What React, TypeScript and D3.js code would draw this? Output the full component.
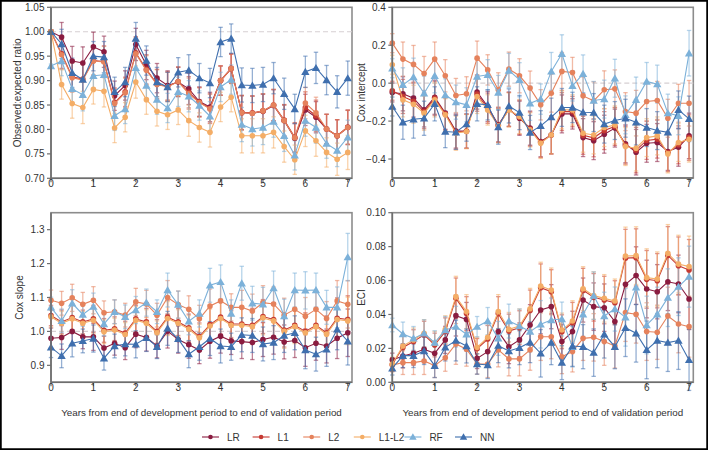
import React from 'react';
import * as d3 from 'd3';

// years from end of development period
const years = [0, 0.25, 0.5, 0.75, 1, 1.25, 1.5, 1.75, 2, 2.25, 2.5, 2.75, 3, 3.25, 3.5, 3.75, 4, 4.25, 4.5, 4.75, 5, 5.25, 5.5, 5.75, 6, 6.25, 6.5, 6.75, 7];

const models = ['LR', 'L1', 'L2', 'L1-L2', 'RF', 'NN'];
const colors = ['#8a1c40', '#c63a32', '#e5825c', '#f4ad66', '#7cb1d9', '#3f6fae'];
const shapes = ['circle', 'circle', 'circle', 'circle', 'triangle', 'triangle'];

// observed:expected ratio
const oeLR = [1.0, 0.989, 0.94, 0.936, 0.969, 0.959, 0.869, 0.89, 0.974, 0.932, 0.905, 0.89, 0.897, 0.883, 0.857, 0.846, 0.9, 0.925, 0.834, 0.833, 0.837, 0.849, 0.818, 0.782, 0.84, 0.825, 0.801, 0.787, 0.804];
const oeL1 = [1.0, 0.955, 0.908, 0.903, 0.941, 0.939, 0.855, 0.877, 0.957, 0.923, 0.893, 0.888, 0.898, 0.876, 0.856, 0.843, 0.9, 0.924, 0.835, 0.834, 0.838, 0.85, 0.819, 0.784, 0.845, 0.828, 0.801, 0.787, 0.805];
const oeL2 = [1.0, 0.953, 0.906, 0.901, 0.94, 0.938, 0.853, 0.875, 0.955, 0.921, 0.892, 0.887, 0.898, 0.873, 0.855, 0.842, 0.9, 0.925, 0.834, 0.833, 0.838, 0.85, 0.818, 0.783, 0.854, 0.834, 0.801, 0.787, 0.804];
const oeL1L2 = [1.0, 0.892, 0.853, 0.845, 0.882, 0.878, 0.803, 0.825, 0.897, 0.861, 0.837, 0.83, 0.84, 0.818, 0.804, 0.794, 0.846, 0.866, 0.787, 0.787, 0.787, 0.794, 0.765, 0.738, 0.797, 0.777, 0.753, 0.739, 0.753];
const oeRF = [0.93, 0.94, 0.883, 0.871, 0.91, 0.912, 0.828, 0.842, 0.926, 0.89, 0.861, 0.844, 0.877, 0.868, 0.849, 0.827, 0.887, 0.902, 0.81, 0.801, 0.804, 0.816, 0.787, 0.747, 0.818, 0.804, 0.771, 0.757, 0.784];
const oeNN = [1.0, 0.975, 0.916, 0.902, 0.95, 0.948, 0.877, 0.897, 0.986, 0.941, 0.897, 0.887, 0.917, 0.921, 0.905, 0.895, 0.979, 0.986, 0.891, 0.89, 0.892, 0.905, 0.873, 0.842, 0.918, 0.926, 0.901, 0.877, 0.905];
const oeErr = [0.004, 0.03, 0.03, 0.033, 0.03, 0.032, 0.03, 0.03, 0.033, 0.03, 0.03, 0.03, 0.03, 0.032, 0.03, 0.03, 0.03, 0.03, 0.035, 0.035, 0.035, 0.032, 0.032, 0.03, 0.032, 0.032, 0.03, 0.033, 0.035];

// Cox intercept
const intLR = [-0.049, -0.056, -0.079, -0.141, -0.074, -0.158, -0.252, -0.252, -0.047, -0.123, -0.22, -0.137, -0.185, -0.237, -0.308, -0.273, -0.162, -0.162, -0.287, -0.303, -0.269, -0.237, -0.32, -0.364, -0.317, -0.313, -0.36, -0.338, -0.278];
const intL1 = [-0.04, -0.07, -0.095, -0.15, -0.08, -0.162, -0.258, -0.254, -0.058, -0.132, -0.222, -0.139, -0.18, -0.242, -0.312, -0.273, -0.15, -0.15, -0.275, -0.288, -0.25, -0.228, -0.327, -0.353, -0.302, -0.295, -0.366, -0.325, -0.287];
const intL2 = [0.211, 0.127, 0.099, 0.051, 0.127, 0.039, -0.065, -0.056, 0.132, 0.07, -0.035, 0.074, 0.039, -0.026, -0.114, -0.053, 0.062, 0.056, -0.067, -0.093, -0.035, -0.03, -0.15, -0.158, -0.097, -0.091, -0.185, -0.106, -0.106];
const intL1L2 = [0.097, -0.088, -0.111, -0.158, -0.088, -0.167, -0.264, -0.255, -0.07, -0.141, -0.225, -0.141, -0.176, -0.246, -0.317, -0.273, -0.141, -0.141, -0.264, -0.273, -0.234, -0.22, -0.334, -0.343, -0.287, -0.278, -0.373, -0.313, -0.296];
const intRF = [0.079, -0.009, 0.032, -0.053, 0.039, -0.062, -0.1, -0.114, 0.035, 0.044, -0.049, 0.067, 0.018, -0.106, -0.084, 0.062, 0.155, -0.014, 0.049, -0.091, -0.084, 0.026, -0.167, -0.088, 0.009, -0.005, -0.158, -0.172, 0.158];
const intNN = [-0.123, -0.206, -0.19, -0.185, -0.109, -0.255, -0.259, -0.216, -0.109, -0.114, -0.232, -0.12, -0.155, -0.26, -0.225, -0.179, -0.128, -0.128, -0.153, -0.155, -0.216, -0.197, -0.185, -0.206, -0.234, -0.25, -0.259, -0.141, -0.188];
const intErr = [0.05, 0.09, 0.1, 0.09, 0.09, 0.085, 0.09, 0.09, 0.09, 0.08, 0.09, 0.09, 0.09, 0.09, 0.08, 0.1, 0.1, 0.08, 0.1, 0.1, 0.1, 0.1, 0.1, 0.12, 0.1, 0.1, 0.1, 0.1, 0.12];

// Cox slope
const slLR = [0.98, 0.982, 1.0, 0.984, 0.984, 0.951, 0.965, 0.952, 0.992, 0.982, 0.957, 1.001, 0.976, 0.961, 0.945, 0.971, 0.986, 0.972, 0.97, 0.967, 0.976, 0.983, 0.969, 0.973, 0.952, 0.965, 0.957, 0.98, 0.996];
const slL1 = [1.047, 1.028, 1.041, 1.028, 1.037, 1.003, 1.008, 0.995, 1.037, 1.028, 1.0, 1.042, 1.028, 1.011, 0.985, 1.02, 1.042, 1.022, 1.022, 1.018, 1.044, 1.035, 1.004, 1.018, 1.0, 1.018, 0.996, 1.039, 1.035];
const slL2 = [1.092, 1.083, 1.099, 1.08, 1.092, 1.055, 1.058, 1.048, 1.087, 1.081, 1.048, 1.1, 1.079, 1.065, 1.037, 1.075, 1.09, 1.071, 1.071, 1.06, 1.085, 1.081, 1.048, 1.065, 1.045, 1.065, 1.038, 1.09, 1.08];
const slL1L2 = [1.043, 1.024, 1.037, 1.024, 1.033, 0.999, 1.004, 0.991, 1.033, 1.024, 0.996, 1.038, 1.024, 1.007, 0.981, 1.016, 1.038, 1.018, 1.018, 1.014, 1.04, 1.031, 1.0, 1.014, 0.996, 1.014, 0.992, 1.035, 1.031];
const slRF = [1.071, 1.031, 1.083, 1.05, 1.073, 1.022, 1.058, 1.043, 1.063, 1.085, 1.058, 1.122, 1.079, 1.03, 1.053, 1.136, 1.146, 1.053, 1.142, 1.083, 1.08, 1.128, 1.045, 1.122, 1.121, 1.122, 1.071, 1.071, 1.219];
const slNN = [0.953, 0.928, 0.965, 0.972, 0.979, 0.921, 0.957, 0.963, 0.962, 0.981, 0.955, 1.009, 0.978, 0.933, 0.955, 0.979, 0.957, 0.955, 0.99, 0.988, 0.963, 0.967, 0.988, 0.996, 0.945, 0.933, 0.947, 1.006, 0.971];
const slErr = [0.03, 0.035, 0.04, 0.035, 0.04, 0.035, 0.035, 0.035, 0.04, 0.04, 0.035, 0.05, 0.04, 0.04, 0.04, 0.05, 0.05, 0.04, 0.05, 0.05, 0.05, 0.05, 0.05, 0.05, 0.055, 0.05, 0.05, 0.06, 0.07];

// ECI
const eciLR = [0.0132, 0.0155, 0.0171, 0.0195, 0.0171, 0.025, 0.0393, 0.0371, 0.0141, 0.0181, 0.0299, 0.021, 0.025, 0.0338, 0.0426, 0.0446, 0.024, 0.0299, 0.0485, 0.0446, 0.044, 0.0358, 0.0578, 0.0629, 0.055, 0.0534, 0.0593, 0.058, 0.0491];
const eciL1 = [0.0105, 0.0205, 0.024, 0.028, 0.022, 0.03, 0.0495, 0.0405, 0.0198, 0.0255, 0.0405, 0.0302, 0.0322, 0.0424, 0.0558, 0.0534, 0.0298, 0.0351, 0.0542, 0.0501, 0.0485, 0.0469, 0.0732, 0.0735, 0.0607, 0.0599, 0.0748, 0.0687, 0.0662];
const eciL2 = [0.0102, 0.0116, 0.0116, 0.0126, 0.0098, 0.0145, 0.0226, 0.0195, 0.0108, 0.0108, 0.0191, 0.0138, 0.0138, 0.0191, 0.0269, 0.0269, 0.0151, 0.0181, 0.0259, 0.0265, 0.024, 0.0214, 0.0411, 0.0401, 0.0299, 0.0295, 0.0391, 0.0344, 0.0328];
const eciL1L2 = [0.0108, 0.0214, 0.025, 0.0289, 0.023, 0.0312, 0.0505, 0.0417, 0.0206, 0.0265, 0.0417, 0.0312, 0.0332, 0.0434, 0.0568, 0.0544, 0.0308, 0.0361, 0.0552, 0.0511, 0.0495, 0.0479, 0.0745, 0.0747, 0.0617, 0.0609, 0.076, 0.0697, 0.0682];
const eciRF = [0.0338, 0.0285, 0.0259, 0.0289, 0.0234, 0.0308, 0.0328, 0.0283, 0.0328, 0.0361, 0.0259, 0.0361, 0.0332, 0.0299, 0.0342, 0.0367, 0.0373, 0.021, 0.0401, 0.0511, 0.0391, 0.0432, 0.0383, 0.056, 0.0338, 0.0401, 0.0499, 0.0564, 0.0623];
const eciNN = [0.0083, 0.0157, 0.0157, 0.0185, 0.0098, 0.0206, 0.0246, 0.0214, 0.0108, 0.0102, 0.0216, 0.0185, 0.0204, 0.0236, 0.0171, 0.0234, 0.0116, 0.0214, 0.021, 0.0175, 0.0283, 0.021, 0.0322, 0.0289, 0.0191, 0.0246, 0.0234, 0.0246, 0.0132];
const eciErr = [0.004, 0.007, 0.007, 0.008, 0.007, 0.008, 0.012, 0.01, 0.006, 0.008, 0.01, 0.01, 0.01, 0.012, 0.014, 0.013, 0.01, 0.012, 0.013, 0.014, 0.014, 0.013, 0.017, 0.017, 0.017, 0.016, 0.017, 0.017, 0.018];

const xTicks = [0, 1, 2, 3, 4, 5, 6, 7];
const FONT = 'Liberation Sans, Arial, sans-serif';
const FS = 10;
const W = 708;
const H = 450;

function Panel({ left, right, top, bottom, domain, ticks, fmt, title, titleX, refLine, series, err, xTitle }) {
	const x = d3.scaleLinear().domain([0, 7.1]).range([left, right]);
	const y = d3.scaleLinear().domain(domain).range([bottom, top]);
	const line = d3
		.line()
		.x((d, i) => x(years[i]))
		.y(d => y(d));
	const tri = d3.symbol(d3.symbolTriangle, 30)();
	const cap = 2.2;

	return (
		<g>
			<rect x={left} y={top} width={right - left} height={bottom - top} fill="#fff" stroke="#8c8c8c" strokeWidth={1.6} />
			{refLine !== undefined && (
				<line x1={left} x2={right} y1={y(refLine)} y2={y(refLine)} stroke="#d6cfd2" strokeWidth={1.2} strokeDasharray="5,3" />
			)}
			{/* error bars */}
			{series.map((vals, s) => (
				<g key={'e' + s} stroke={colors[s]} strokeOpacity={0.55} strokeWidth={1.3}>
					{vals.map((v, i) => {
						const cx = x(years[i]);
						const y1 = y(v - err[i]);
						const y2 = y(v + err[i]);
						return (
							<g key={i}>
								<line x1={cx} x2={cx} y1={y1} y2={y2} />
								<line x1={cx - cap} x2={cx + cap} y1={y1} y2={y1} />
								<line x1={cx - cap} x2={cx + cap} y1={y2} y2={y2} />
							</g>
						);
					})}
				</g>
			))}
			{/* lines + markers */}
			{series.map((vals, s) => (
				<g key={'s' + s}>
					<path d={line(vals)} fill="none" stroke={colors[s]} strokeWidth={1.1} />
					{vals.map((v, i) =>
						shapes[s] === 'circle' ? (
							<circle key={i} cx={x(years[i])} cy={y(v)} r={2.8} fill={colors[s]} />
						) : (
							<path key={i} d={tri} transform={`translate(${x(years[i])},${y(v) + 0.8})`} fill={colors[s]} />
						)
					)}
				</g>
			))}
			{/* axes */}
			<line x1={left} x2={left} y1={top} y2={bottom} stroke="#6e6e6e" strokeWidth={1.6} />
			<line x1={left} x2={right} y1={bottom} y2={bottom} stroke="#6e6e6e" strokeWidth={1.6} />
			{ticks.map(t => (
				<g key={'y' + t} fontFamily={FONT} fontSize={FS} fill="#333">
					<line x1={left - 4} x2={left} y1={y(t)} y2={y(t)} stroke="#6e6e6e" strokeWidth={1.2} />
					<text x={left - 6.5} y={y(t)} dy="0.35em" textAnchor="end">
						{d3.format(fmt)(t)}
					</text>
				</g>
			))}
			{xTicks.map(t => (
				<g key={'x' + t} fontFamily={FONT} fontSize={FS} fill="#333">
					<line x1={x(t)} x2={x(t)} y1={bottom} y2={bottom + 4} stroke="#6e6e6e" strokeWidth={1.2} />
					<text x={x(t)} y={bottom + 1.5} dy="0.71em" textAnchor="middle">
						{t}
					</text>
				</g>
			))}
			<text
				transform={`translate(${titleX},${(top + bottom) / 2}) rotate(-90)`}
				textAnchor="middle"
				dy="0.35em"
				fontFamily={FONT}
				fontSize={FS}
				fill="#333"
			>
				{title}
			</text>
			{xTitle && (
				<text x={(left + right) / 2} y={bottom + 33.5} textAnchor="middle" fontFamily={FONT} fontSize={9.8} fill="#333">
					Years from end of development period to end of validation period
				</text>
			)}
		</g>
	);
}

export default function App() {
	const tri = d3.symbol(d3.symbolTriangle, 24)();
	return (
		<svg width={W} height={H} style={{ position: 'absolute', left: 0, top: 0, background: '#fff' }}>
			<rect x={0} y={0} width={W} height={H} fill="#fff" />
			<Panel
				left={51}
				right={352}
				top={7.3}
				bottom={178.3}
				domain={[0.7, 1.05]}
				ticks={[0.7, 0.75, 0.8, 0.85, 0.9, 0.95, 1.0, 1.05]}
				fmt=".2f"
				title="Observed:expected ratio"
				titleX={17.5}
				refLine={1}
				series={[oeLR, oeL1, oeL2, oeL1L2, oeRF, oeNN]}
				err={oeErr}
			/>
			<Panel
				left={392.3}
				right={693.3}
				top={7.3}
				bottom={178}
				domain={[-0.5, 0.4]}
				ticks={[-0.4, -0.2, 0, 0.2, 0.4]}
				fmt=".1f"
				title="Cox intercept"
				titleX={361}
				refLine={0}
				series={[intLR, intL1, intL2, intL1L2, intRF, intNN]}
				err={intErr}
			/>
			<Panel
				left={51}
				right={352}
				top={212.7}
				bottom={382.3}
				domain={[0.85, 1.35]}
				ticks={[0.9, 1.0, 1.1, 1.2, 1.3]}
				fmt=".1f"
				title="Cox slope"
				titleX={19}
				refLine={1}
				series={[slLR, slL1, slL2, slL1L2, slRF, slNN]}
				err={slErr}
				xTitle
			/>
			<Panel
				left={392.3}
				right={693.3}
				top={212.7}
				bottom={382.3}
				domain={[0, 0.1]}
				ticks={[0, 0.02, 0.04, 0.06, 0.08, 0.1]}
				fmt=".2f"
				title="ECI"
				titleX={361}
				series={[eciLR, eciL1, eciL2, eciL1L2, eciRF, eciNN]}
				err={eciErr}
				xTitle
			/>
			{/* legend */}
			<g fontFamily={FONT} fontSize={FS} fill="#333">
				{models.map((m, i) => {
					const lx = 202 + i * 50.6;
					return (
						<g key={m}>
							<line x1={lx} x2={lx + 17} y1={437} y2={437} stroke={colors[i]} strokeWidth={1.1} />
							{shapes[i] === 'circle' ? (
								<circle cx={lx + 8.5} cy={437} r={2.3} fill={colors[i]} />
							) : (
								<path d={tri} transform={`translate(${lx + 8.5},437.5)`} fill={colors[i]} />
							)}
							<text x={lx + 25} y={437} dy="0.35em">
								{m}
							</text>
						</g>
					);
				})}
			</g>
			<rect x={0} y={0} width={W} height={H} fill="none" stroke="#000" strokeWidth={3.5} />
		</svg>
	);
}
